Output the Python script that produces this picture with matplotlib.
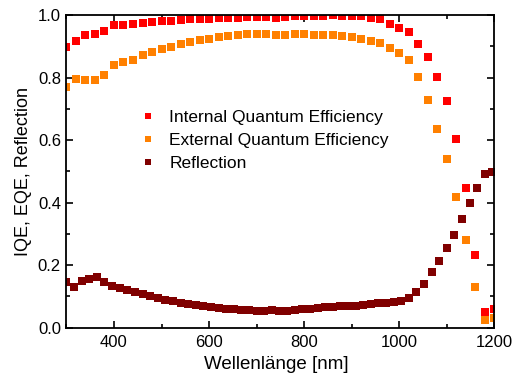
import matplotlib
matplotlib.use("Agg")
import matplotlib.pyplot as plt
from matplotlib.ticker import MultipleLocator

plt.rcParams['font.family'] = ['Liberation Sans', 'DejaVu Sans']

# IQE / EQE wavelengths (nm)
wl_qe = [300, 320, 340, 360, 380, 400, 420, 440, 460, 480, 500, 520, 540, 560,
         580, 600, 620, 640, 660, 680, 700, 720, 740, 760, 780, 800, 820, 840,
         860, 880, 900, 920, 940, 960, 980, 1000, 1020, 1040, 1060, 1080, 1100,
         1120, 1140, 1160, 1180, 1200]
iqe = [0.897, 0.917, 0.936, 0.941, 0.948, 0.967, 0.969, 0.971, 0.974, 0.978,
       0.980, 0.982, 0.985, 0.986, 0.987, 0.989, 0.990, 0.990, 0.991, 0.993,
       0.993, 0.993, 0.991, 0.994, 0.998, 0.998, 0.998, 0.998, 0.999, 0.998,
       0.998, 0.997, 0.991, 0.986, 0.972, 0.959, 0.945, 0.909, 0.865, 0.801,
       0.726, 0.604, 0.448, 0.232, 0.049, 0.061]
eqe = [0.769, 0.797, 0.792, 0.791, 0.809, 0.839, 0.850, 0.858, 0.871, 0.883,
       0.891, 0.898, 0.908, 0.915, 0.920, 0.924, 0.929, 0.933, 0.937, 0.939,
       0.940, 0.939, 0.936, 0.938, 0.940, 0.941, 0.936, 0.936, 0.937, 0.932,
       0.929, 0.925, 0.918, 0.911, 0.895, 0.878, 0.856, 0.802, 0.727, 0.636,
       0.541, 0.417, 0.281, 0.131, 0.025, 0.030]

# Reflection wavelengths (nm)
wl_r = [300, 316, 332, 348, 364, 380, 396, 412, 428, 444, 460, 476, 492, 508,
        524, 540, 556, 572, 588, 604, 620, 636, 652, 668, 684, 700, 716, 732,
        748, 764, 780, 796, 812, 828, 844, 860, 876, 892, 908, 924, 940, 956,
        972, 988, 1004, 1020, 1036, 1052, 1068, 1084, 1100, 1116, 1132, 1148,
        1164, 1180, 1196]
refl = [0.147, 0.129, 0.149, 0.156, 0.161, 0.147, 0.134, 0.126, 0.120, 0.113,
        0.107, 0.101, 0.095, 0.090, 0.084, 0.080, 0.076, 0.072, 0.068, 0.065,
        0.062, 0.060, 0.059, 0.058, 0.056, 0.055, 0.055, 0.056, 0.055, 0.055,
        0.057, 0.059, 0.061, 0.063, 0.065, 0.067, 0.069, 0.070, 0.071, 0.074,
        0.076, 0.078, 0.079, 0.081, 0.084, 0.095, 0.113, 0.141, 0.177, 0.214,
        0.254, 0.297, 0.347, 0.398, 0.448, 0.491, 0.497]

labels = ["Internal Quantum Efficiency", "External Quantum Efficiency", "Reflection"]
colors = ["#ff0000", "#ff8000", "#800000"]

fig = plt.figure(figsize=(5.15, 3.78), dpi=100)
ax = fig.add_axes([0.129, 0.133, 0.831, 0.827])

ms = 5.3
ax.plot(wl_qe, iqe, 's', color=colors[0], ms=ms, mew=0, label=labels[0])
ax.plot(wl_qe, eqe, 's', color=colors[1], ms=ms, mew=0, label=labels[1])
ax.plot(wl_r, refl, 's', color=colors[2], ms=ms, mew=0, label=labels[2])

ax.set_xlim(300, 1200)
ax.set_ylim(0.0, 1.0)
ax.xaxis.set_major_locator(MultipleLocator(200))
ax.xaxis.set_minor_locator(MultipleLocator(100))
ax.yaxis.set_major_locator(MultipleLocator(0.2))
ax.yaxis.set_minor_locator(MultipleLocator(0.1))
ax.yaxis.set_major_formatter(plt.FuncFormatter(lambda v, p: f"{v:.1f}"))
ax.tick_params(which='both', direction='in', top=True, right=True, labelsize=12, width=1.2)
ax.tick_params(which='major', length=5, pad=4)
ax.tick_params(axis='x', which='major', pad=5.5)
ax.tick_params(which='minor', length=3)
for s in ax.spines.values():
    s.set_linewidth(1.3)

ax.set_xlabel("Wellenlänge [nm]", fontsize=13.5, labelpad=6)
ax.xaxis.set_label_coords(0.49, -0.09)
ax.set_ylabel("IQE, EQE, Reflection", fontsize=13, labelpad=4)

ax.legend(loc='upper left', bbox_to_anchor=(0.155, 0.72), frameon=False, fontsize=12.5,
          markerscale=0.7, handlelength=1.0, handletextpad=0.7, labelspacing=0.45,
          borderaxespad=0)

fig.savefig("out.png", dpi=100)
